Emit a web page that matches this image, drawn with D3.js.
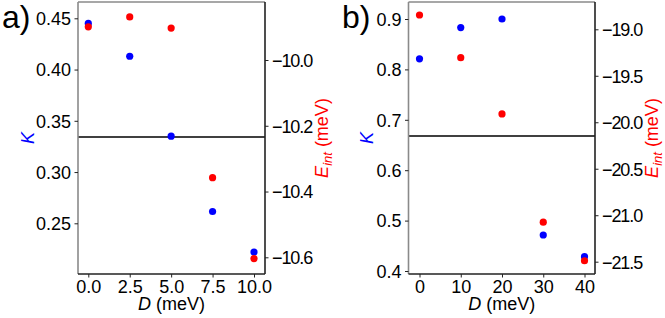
<!DOCTYPE html>
<html>
<head>
<meta charset="utf-8">
<script src="https://cdn.jsdelivr.net/npm/d3@7"></script>
<style>
  body { margin: 0; background: #fff; }
  svg { font-family: "Liberation Sans", Arial, sans-serif; }
  .axis text { font-size: 18px; fill: #000; }
  .axis path { display: none; }
  .axis line { stroke: #222; }
  .yr text { letter-spacing: -1.1px; }
</style>
</head>
<body>
<script>
// panel a
const dA = [0, 2.5, 5, 7.5, 10];
const kA = [0.445, 0.413, 0.335, 0.2615, 0.222];
const eA = [-9.899, -9.869, -9.903, -10.358, -10.604];
const xTicksA = [0, 2.5, 5, 7.5, 10];
const kTicksA = [0.25, 0.30, 0.35, 0.40, 0.45];
const eTicksA = [-10.6, -10.4, -10.2, -10.0];

// panel b
const dB = [0, 10, 20, 30, 40];
const kB = [0.821, 0.883, 0.900, 0.4714, 0.4284];
const eB = [-18.846, -19.305, -19.91, -21.075, -21.49];
const xTicksB = [0, 10, 20, 30, 40];
const kTicksB = [0.4, 0.5, 0.6, 0.7, 0.8, 0.9];
const eTicksB = [-21.5, -21.0, -20.5, -20.0, -19.5, -19.0];

const svg = d3.select("body")
  .append("svg")
  .attr("width", 665)
  .attr("height", 318)

const minus = s => s.replace("-", "\u2212")

const drawPanel = (p) => {
  const top = 2, bottom = 274;

  const xScale = d3.scaleLinear().domain(p.xDom).range(p.xRange);
  const kScale = d3.scaleLinear().domain(p.kDom).range(p.kRange);
  const eScale = d3.scaleLinear().domain(p.eDom).range(p.eRange);

  const g = svg.append("g");

  // horizontal line across the frame
  g.append("line")
    .attr("x1", p.left).attr("x2", p.right)
    .attr("y1", p.hLine).attr("y2", p.hLine)
    .attr("stroke", "#000")
    .attr("stroke-width", 1.3)

  // spines
  g.append("line").attr("x1", p.left).attr("x2", p.left).attr("y1", top).attr("y2", bottom)
    .attr("stroke", "#8a8a8a").attr("stroke-width", 1.6)
  g.append("line").attr("x1", p.left).attr("x2", p.right).attr("y1", top).attr("y2", top)
    .attr("stroke", "#8a8a8a").attr("stroke-width", 1.6)
  g.append("line").attr("x1", p.right).attr("x2", p.right).attr("y1", top).attr("y2", bottom)
    .attr("stroke", "#222").attr("stroke-width", 1.6)
  g.append("line").attr("x1", p.left).attr("x2", p.right).attr("y1", bottom).attr("y2", bottom)
    .attr("stroke", "#222").attr("stroke-width", 1.3)

  g.append("g")
    .attr("class", "axis x")
    .attr("transform", `translate(0, ${bottom})`)
    .call(d3.axisBottom(xScale).tickValues(p.xTicks).tickSize(3.5).tickPadding(3)
      .tickFormat(p.xFmt))

  g.append("g")
    .attr("class", "axis yl")
    .attr("transform", `translate(${p.left}, 0)`)
    .call(d3.axisLeft(kScale).tickValues(p.kTicks).tickSize(3.5).tickPadding(3.5)
      .tickFormat(p.kFmt))
    .selectAll("text").attr("dy", "0.35em")

  g.append("g")
    .attr("class", "axis yr")
    .attr("transform", `translate(${p.right}, 0)`)
    .call(d3.axisRight(eScale).tickValues(p.eTicks).tickSize(3.5).tickPadding(3.5)
      .tickFormat(d => minus(p.eFmt(d))))
    .selectAll("text").attr("dy", "0.35em")

  // points
  g.selectAll(".k-dot")
    .data(p.d)
    .enter()
    .append("circle")
    .attr("class", "k-dot")
    .attr("cx", d => xScale(d))
    .attr("cy", (d, i) => kScale(p.k[i]))
    .attr("r", 3.6)
    .attr("fill", "#0000ff")

  g.selectAll(".e-dot")
    .data(p.d)
    .enter()
    .append("circle")
    .attr("class", "e-dot")
    .attr("cx", d => xScale(d))
    .attr("cy", (d, i) => eScale(p.e[i]))
    .attr("r", 3.6)
    .attr("fill", "#ff0000")

  // labels
  const xl = g.append("text")
    .attr("x", (p.left + p.right) / 2)
    .attr("y", 310)
    .attr("text-anchor", "middle")
    .style("font-size", "18px")
  xl.append("tspan").style("font-style", "italic").text("D")
  xl.append("tspan").text(" (meV)")

  g.append("text")
    .attr("transform", `translate(${p.kLabelX}, 138) rotate(-90)`)
    .attr("text-anchor", "middle")
    .style("font-size", "18px")
    .style("font-style", "italic")
    .attr("fill", "#0000ff")
    .text("K")

  const el = g.append("text")
    .attr("transform", `translate(${p.eLabelX}, 138) rotate(-90)`)
    .attr("text-anchor", "middle")
    .style("font-size", "18px")
    .attr("fill", "#ff0000")
  el.append("tspan").style("font-style", "italic").text("E")
  el.append("tspan").style("font-style", "italic").style("font-size", "13px")
    .attr("dy", 4).text("int")
  el.append("tspan").attr("dy", -4).text(" (meV)")

  g.append("text")
    .attr("x", p.tagX)
    .attr("y", 28)
    .style("font-size", "32px")
    .text(p.tag)
}

drawPanel({
  tag: "a)", tagX: 2,
  left: 78, right: 265, hLine: 137,
  d: dA, k: kA, e: eA,
  xDom: [0, 10], xRange: [88.3, 254],
  kDom: [0.25, 0.45], kRange: [223.3, 18.3],
  eDom: [-10.6, -10.0], eRange: [257.3, 60],
  xTicks: xTicksA, kTicks: kTicksA, eTicks: eTicksA,
  xFmt: d3.format(".1f"), kFmt: d3.format(".2f"), eFmt: d3.format(".1f"),
  kLabelX: 33.5, eLabelX: 328
})

drawPanel({
  tag: "b)", tagX: 342,
  left: 408.5, right: 595, hLine: 136,
  d: dB, k: kB, e: eB,
  xDom: [0, 40], xRange: [419.5, 584.5],
  kDom: [0.4, 0.9], kRange: [271, 19],
  eDom: [-21.5, -19.0], eRange: [261.7, 29.3],
  xTicks: xTicksB, kTicks: kTicksB, eTicks: eTicksB,
  xFmt: d3.format("d"), kFmt: d3.format(".1f"), eFmt: d3.format(".1f"),
  kLabelX: 373, eLabelX: 658
})
</script>
</body>
</html>
